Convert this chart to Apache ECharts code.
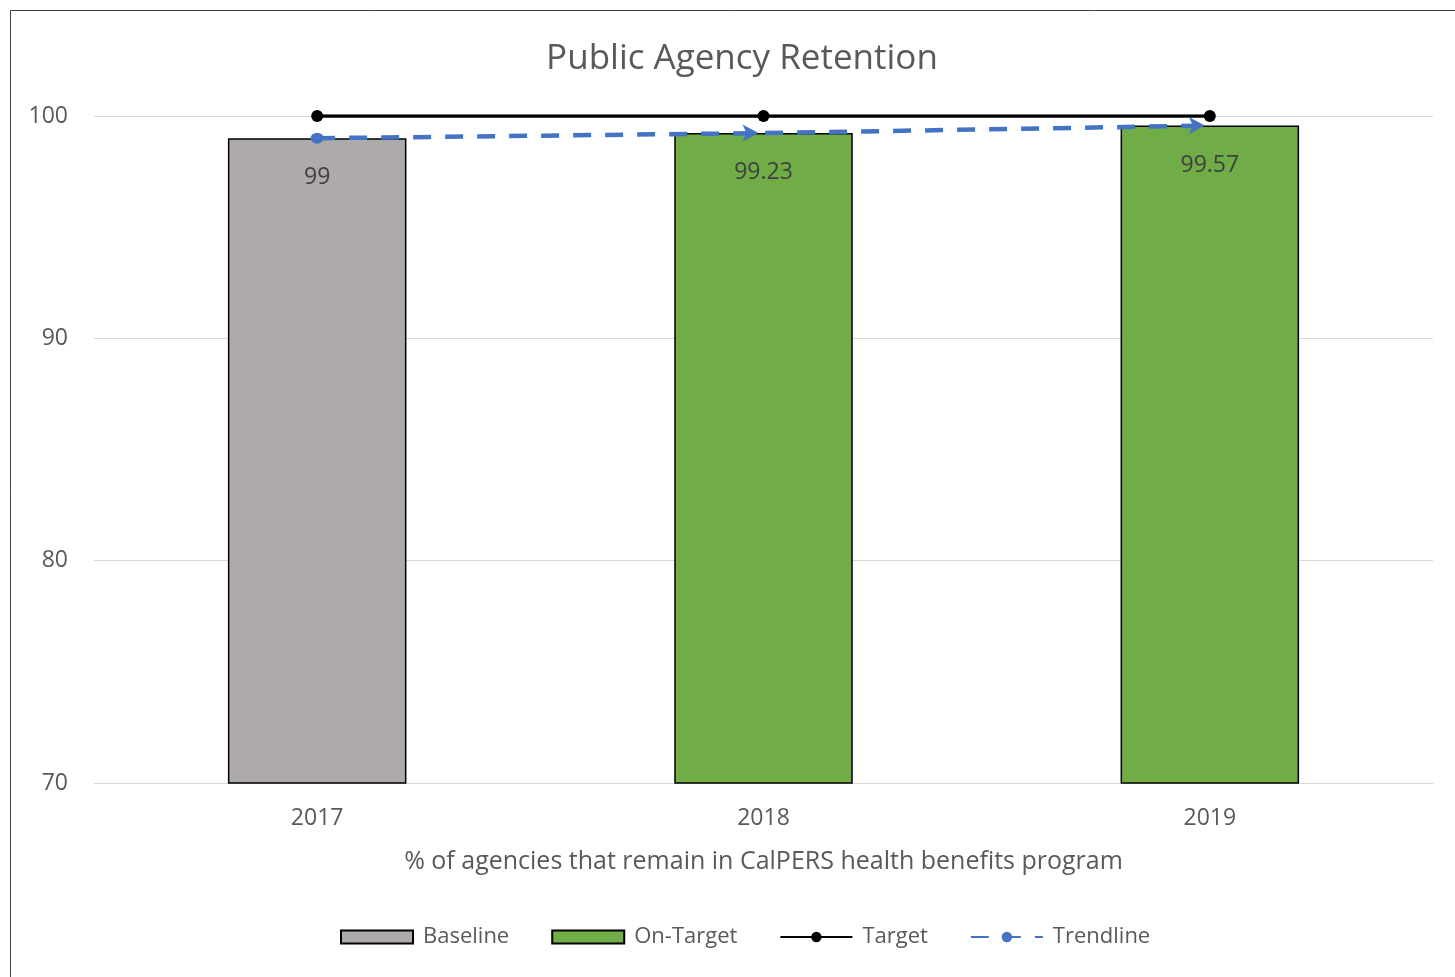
<!DOCTYPE html>
<html>
<head>
<meta charset="utf-8">
<script src="https://cdn.jsdelivr.net/npm/echarts@6/dist/echarts.min.js"></script>
<style>
html,body{margin:0;padding:0;background:#fff;}
#chart{width:1455px;height:977px;}
</style>
</head>
<body>
<div id="chart"></div>
<script>
const categories = ['2017', '2018', '2019'];
const baselineValues = [99, '-', '-'];
const onTargetValues = ['-', 99.23, 99.57];
const targetValues = [100, 100, 100];
const trendlineValues = [99, 99.23, 99.57];
const yTicks = { min: 70, max: 100, interval: 10 };

const FONT = '"Open Sans", "Noto Sans", sans-serif';
const chart = echarts.init(document.getElementById('chart'));

const trendData = trendlineValues.map((v, i) => ({
  value: v,
  symbol: i === 0 ? 'circle' : 'arrow',
  symbolSize: i === 0 ? [13, 11] : [13, 16],
  symbolRotate: i === 0 ? 0 : -90,
  symbolOffset: i === 0 ? [0, 0] : [-5, 0]
}));

chart.setOption({
  animation: false,
  backgroundColor: '#fff',
  textStyle: { fontFamily: FONT },
  graphic: [
    { type: 'line', shape: { x1: 10.5, y1: 10.5, x2: 1460, y2: 10.5 }, style: { stroke: '#404040', lineWidth: 1 } },
    { type: 'line', shape: { x1: 10.5, y1: 10.5, x2: 10.5, y2: 980 }, style: { stroke: '#404040', lineWidth: 1 } }
  ],
  title: {
    text: 'Public Agency Retention',
    left: 737, top: 37, textAlign: 'center',
    textStyle: { fontFamily: FONT, fontSize: 35, fontWeight: 'normal', color: '#595959' }
  },
  legend: {
    bottom: 24, left: 335,
    itemWidth: 72, itemHeight: 13, itemGap: 42,
    textStyle: { fontFamily: FONT, fontSize: 22, color: '#595959', padding: [0, 0, 0, 5] },
    data: [
      { name: 'Baseline', icon: 'rect' },
      { name: 'On-Target', icon: 'rect' },
      { name: 'Target' },
      { name: 'Trendline' }
    ]
  },
  grid: { left: 94, right: 22, top: 116, bottom: 194 },
  xAxis: {
    type: 'category', data: categories,
    name: '% of agencies that remain in CalPERS health benefits program',
    nameLocation: 'middle', nameGap: 66,
    nameTextStyle: { fontFamily: FONT, fontSize: 25, color: '#595959' },
    axisLine: { lineStyle: { color: '#d9d9d9', width: 1 } },
    axisTick: { show: false },
    axisLabel: { fontFamily: FONT, fontSize: 23, color: '#595959', margin: 24 }
  },
  yAxis: {
    type: 'value', min: yTicks.min, max: yTicks.max, interval: yTicks.interval,
    axisLine: { show: false }, axisTick: { show: false },
    splitLine: { lineStyle: { color: '#d9d9d9', width: 1 } },
    axisLabel: { fontFamily: FONT, fontSize: 23, color: '#595959', margin: 26 }
  },
  series: [
    {
      name: 'Baseline', type: 'bar', data: baselineValues, barWidth: '40%', barGap: '-100%',
      itemStyle: { color: '#aeaaaa', borderColor: '#000', borderWidth: 1.5 },
      label: { show: true, position: 'insideTop', distance: 28, fontFamily: FONT, fontSize: 23, color: '#404040' }
    },
    {
      name: 'On-Target', type: 'bar', data: onTargetValues, barWidth: '40%', barGap: '-100%',
      itemStyle: { color: '#70ad47', borderColor: '#000', borderWidth: 1.5 },
      label: { show: true, position: 'insideTop', distance: 28, fontFamily: FONT, fontSize: 23, color: '#404040' }
    },
    {
      name: 'Target', type: 'line', data: targetValues, z: 5,
      symbol: 'circle', symbolSize: 12,
      lineStyle: { color: '#000', width: 3.5 },
      itemStyle: { color: '#000' }
    },
    {
      name: 'Trendline', type: 'line', data: trendData, z: 6,
      symbol: 'circle', symbolSize: 13,
      lineStyle: { color: '#4472c4', width: 4.5, type: [18, 14] },
      itemStyle: { color: '#4472c4' }
    }
  ]
});
</script>
</body>
</html>
